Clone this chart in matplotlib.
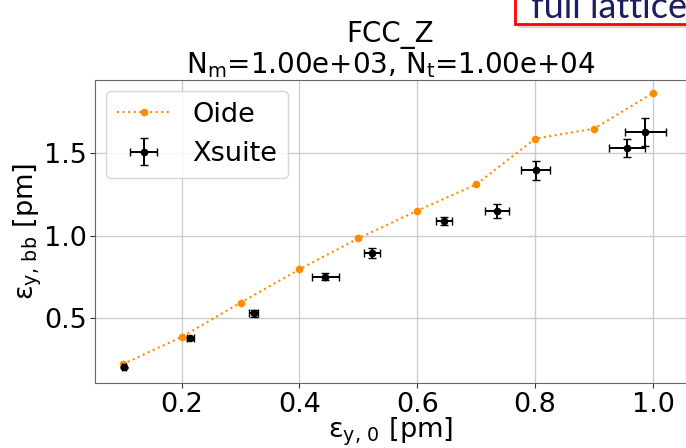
"""Beam-beam blown-up vertical emittance, FCC_Z: Oide reference vs Xsuite."""

import matplotlib

matplotlib.use("Agg")
import matplotlib.pyplot as plt  # noqa: E402
from matplotlib.patches import Rectangle  # noqa: E402

plt.rcParams["mathtext.default"] = "regular"
plt.rcParams["font.size"] = 19.5

# Oide (reference) curve
oide_eps0 = [0.1, 0.2, 0.3, 0.4, 0.5, 0.6, 0.7, 0.8, 0.9, 1.0]
oide_epsbb = [0.217, 0.383, 0.591, 0.794, 0.983, 1.151, 1.311, 1.589, 1.650, 1.867]

# Xsuite simulation with error bars
xs_eps0 = [0.102, 0.215, 0.322, 0.444, 0.523, 0.645, 0.735, 0.801, 0.956, 0.987]
xs_epsbb = [0.198, 0.375, 0.527, 0.749, 0.894, 1.086, 1.149, 1.397, 1.534, 1.628]
xs_xerr = [0.003, 0.006, 0.0075, 0.023, 0.0136, 0.014, 0.0205, 0.0244, 0.030, 0.035]
xs_yerr = [0.005, 0.010, 0.020, 0.020, 0.030, 0.025, 0.040, 0.057, 0.055, 0.084]

W, H = 686, 448
fig = plt.figure(figsize=(W / 100, H / 100), dpi=100)
ax = fig.add_axes([95 / W, 1 - 383.3 / H, 591 / W, 303.3 / H])

ax.plot(oide_eps0, oide_epsbb, ":o", color="darkorange", ms=4.5, lw=1.5, label="Oide")
ax.errorbar(xs_eps0, xs_epsbb, xerr=xs_xerr, yerr=xs_yerr, fmt="o", color="black",
            ms=4.5, capsize=3, elinewidth=1.4, capthick=1.0, label="Xsuite")

ax.set_xlim(0.053, 1.056)
ax.set_ylim(0.101, 1.946)
ax.set_xticks([0.2, 0.4, 0.6, 0.8, 1.0])
ax.set_yticks([0.5, 1.0, 1.5])
ax.grid(True, color="#cccccc", lw=1.0)
for s in ax.spines.values():
    s.set_color("#666666")
ax.tick_params(colors="#333333", labelcolor="black", pad=2.5)

ax.set_xlabel(r"$\epsilon_{y,\,0}$ [pm]", labelpad=-1.5)
ax.set_ylabel(r"$\epsilon_{y,\,bb}$ [pm]", labelpad=0)
ax.set_title("FCC_Z\n" + r"$N_m$=1.00e+03, $N_t$=1.00e+04", fontsize=20,
             linespacing=1.05, pad=4)
ax.legend(loc="upper left", borderaxespad=0.4)

# slide overlay box in the top right corner (cut off by the crop)
fig.patches.append(Rectangle((518 / W, 1 - 28 / H), 0.5, 0.2, transform=fig.transFigure,
                             facecolor="#bbbbbb", edgecolor="none", alpha=0.6))
fig.patches.append(Rectangle((515 / W, 1 - 24.3 / H), 0.5, 0.2, transform=fig.transFigure,
                             facecolor="white", edgecolor="red", lw=2))
fig.text(531 / W, 1 - 18.5 / H, "full lattice", fontsize=26, color="#1b1f5e",
         family="Lato", va="baseline")

fig.savefig("out.png", dpi=100)
